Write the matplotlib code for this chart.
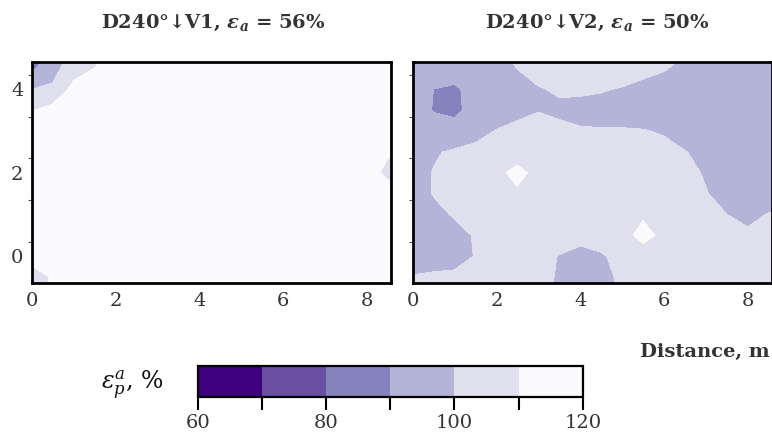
import numpy as np
import matplotlib
matplotlib.use("Agg")
import matplotlib.pyplot as plt
from matplotlib.ticker import FixedLocator

plt.rcParams['font.family'] = ['DejaVu Serif', 'DejaVu Sans']
plt.rcParams['mathtext.fontset'] = 'dejavuserif'

# grid of the survey (m)
x_grid = [0, 0.5, 1, 1.5, 2, 2.5, 3, 3.5, 4, 4.5, 5, 5.5, 6, 6.5, 7, 7.5, 8, 8.5, 9]
y_grid = [5.0, 4.5, 4.0, 3.5, 3.0, 2.5, 2.0, 1.5, 1.0, 0.5, 0.0, -0.5, -1.0]  # rows top -> bottom

# eps_p^a (%), one row per y_grid value
eps_v1 = [
    [82, 92, 101, 106, 112, 115, 115, 115, 115, 115, 115, 115, 115, 115, 115, 115, 115, 115, 115],
    [88, 96.5, 106, 110, 114, 115, 115, 115, 115, 115, 115, 115, 115, 115, 115, 115, 115, 115, 115],
    [100, 101.5, 113, 114.5, 115, 115, 115, 115, 115, 115, 115, 115, 115, 115, 115, 115, 115, 115, 115],
    [109.5, 113.5, 115, 115, 115, 115, 115, 115, 115, 115, 115, 115, 115, 115, 115, 115, 115, 115, 115],
    [114, 115, 115, 115, 115, 115, 115, 115, 115, 115, 115, 115, 115, 115, 115, 115, 115, 115, 115],
    [115, 115, 115, 115, 115, 115, 115, 115, 115, 115, 115, 115, 115, 115, 115, 115, 115, 111.4, 111],
    [115, 115, 115, 115, 115, 115, 115, 115, 115, 115, 115, 115, 115, 115, 115, 115, 115, 107, 105],
    [115, 115, 115, 115, 115, 115, 115, 115, 115, 115, 115, 115, 115, 115, 115, 115, 115, 116, 114],
    [115, 115, 115, 115, 115, 115, 115, 115, 115, 115, 115, 115, 115, 115, 115, 115, 115, 115, 115],
    [115, 115, 115, 115, 115, 115, 115, 115, 115, 115, 115, 115, 115, 115, 115, 115, 115, 115, 115],
    [114, 115, 115, 115, 115, 115, 115, 115, 115, 115, 115, 115, 115, 115, 115, 115, 115, 115, 115],
    [105, 111, 115, 115, 115, 115, 115, 115, 115, 115, 115, 115, 115, 115, 115, 115, 115, 115, 115],
    [107, 111, 115, 115, 115, 115, 115, 115, 115, 115, 115, 115, 115, 115, 115, 115, 115, 115, 115],
]

eps_v2 = [
    [95, 95, 96, 97, 99, 102, 104, 105, 105, 105, 105, 104, 103, 101, 99, 97, 96, 96, 96],
    [94, 95.5, 95, 96, 97.5, 100.1, 102.5, 103.5, 104, 104, 103.5, 102, 100.5, 98, 96, 95, 95, 95, 95],
    [96, 89.9, 88.4, 93.8, 95.5, 97, 99.5, 100.8, 101, 100.5, 99.5, 98, 97, 96, 95, 94.5, 94.5, 95, 95],
    [95.7, 89.4, 87.7, 93.8, 96.5, 98.5, 99.8, 98.8, 98, 97.5, 97.5, 97, 96, 94.5, 94, 94, 94, 94, 94],
    [95.5, 94.7, 94.1, 97.5, 100.3, 101.5, 102, 101.5, 100.6, 100.5, 100.5, 100.3, 99.5, 97.5, 95.5, 94.5, 94, 94, 94],
    [97, 99.3, 101, 102, 103, 104, 104, 103.5, 103, 103, 103, 102.5, 101.5, 100.2, 98.5, 96.5, 95.5, 95, 95],
    [97, 100.3, 103, 105, 107, 113.5, 106, 105, 105, 105, 105, 104.5, 103.5, 102, 99.3, 97, 96, 95.5, 95.5],
    [97, 100.3, 103, 105, 106, 108, 105.5, 105, 105, 105, 105.5, 106, 105, 104, 100.3, 98, 97, 96.5, 96],
    [96.5, 98.5, 100.5, 103, 104.5, 105.5, 105, 104.5, 104, 104.5, 106, 108.5, 106, 104.5, 102.5, 100, 98.5, 100.3, 101],
    [95.5, 96.5, 98, 100.5, 102.5, 103.5, 103, 102.5, 102.5, 103, 106, 113.5, 107, 104.5, 103.5, 102, 101, 102, 103],
    [95, 95.5, 97.5, 100.3, 102, 102.5, 101.5, 99.8, 97.5, 99.3, 102, 104.5, 104, 103, 102.5, 102, 102, 102.5, 103],
    [100.6, 101.5, 101.3, 101.5, 102, 102, 101.5, 99.5, 96.5, 97.5, 101.5, 102.5, 103, 102.5, 102, 102, 102, 102.5, 103],
    [102, 102, 102, 102, 102, 102, 101.5, 99, 96, 97, 101, 102, 102.5, 102.5, 102, 102, 102, 102.5, 103],
]

titles = [r'D240°↓V1, $\mathbfit{\varepsilon}_{\mathbfit{a}}$ = 56%',
          r'D240°↓V2, $\mathbfit{\varepsilon}_{\mathbfit{a}}$ = 50%']
levels = [60, 70, 80, 90, 100, 110, 120]
level_colors = ['#3f007d', '#6a4fa3', '#8582be', '#b4b3d8', '#dfdfee', '#fafafd']


def draw_map(ax, values, show_ylabels):
    X, Y = np.meshgrid(x_grid, y_grid)
    cs = ax.contourf(X, Y, np.array(values), levels=levels, colors=level_colors)
    ax.set_xlim(0, 8.57)
    ax.set_ylim(-0.65, 4.65)
    ax.set_xticks([0, 2, 4, 6, 8])
    ax.set_yticks([0, 2, 4])
    ax.yaxis.set_minor_locator(FixedLocator([0.35, 1.35, 2.35, 3.35, 4.35]))
    ax.tick_params(axis='both', which='major', length=0, labelsize=14, pad=6, colors='#333333')
    ax.tick_params(axis='y', which='minor', length=3, width=0.8, color='#555555')
    if not show_ylabels:
        ax.set_yticklabels([])
    for sp in ax.spines.values():
        sp.set_linewidth(2.0)
        sp.set_color('black')
    return cs


fig = plt.figure(figsize=(7.72, 4.37), dpi=100)
ax1 = fig.add_axes([0.041, 0.3517, 0.465, 0.5057])
ax2 = fig.add_axes([0.5346, 0.3517, 0.465, 0.5057])

cs = draw_map(ax1, eps_v1, True)
draw_map(ax2, eps_v2, False)

fig.text(213 / 772, 1 - 23 / 437, titles[0], ha='center', va='center',
         fontsize=14, fontweight='bold', color='#333333')
fig.text(597 / 772, 1 - 23 / 437, titles[1], ha='center', va='center',
         fontsize=14, fontweight='bold', color='#333333')

fig.text(0.997, 1 - 352 / 437, 'Distance, m', ha='right', va='center',
         fontsize=14, fontweight='bold', color='#333333')

# colour bar
cax = fig.add_axes([0.2561, 0.0908, 0.4987, 0.0723])
cb = fig.colorbar(cs, cax=cax, orientation='horizontal')
cb.set_ticks([60, 80, 100, 120])
cax.xaxis.set_minor_locator(FixedLocator([70, 90, 110]))
cax.tick_params(axis='x', which='both', length=9, width=1.5, direction='out',
                labelsize=14, pad=3, colors='black', labelcolor='#333333')
cb.outline.set_linewidth(1.6)
fig.text(0.212, 1 - 385 / 437, r'$\varepsilon_p^a$, %', ha='right', va='center',
         fontsize=17, color='#111111')

plt.savefig('out.png', dpi=100)
